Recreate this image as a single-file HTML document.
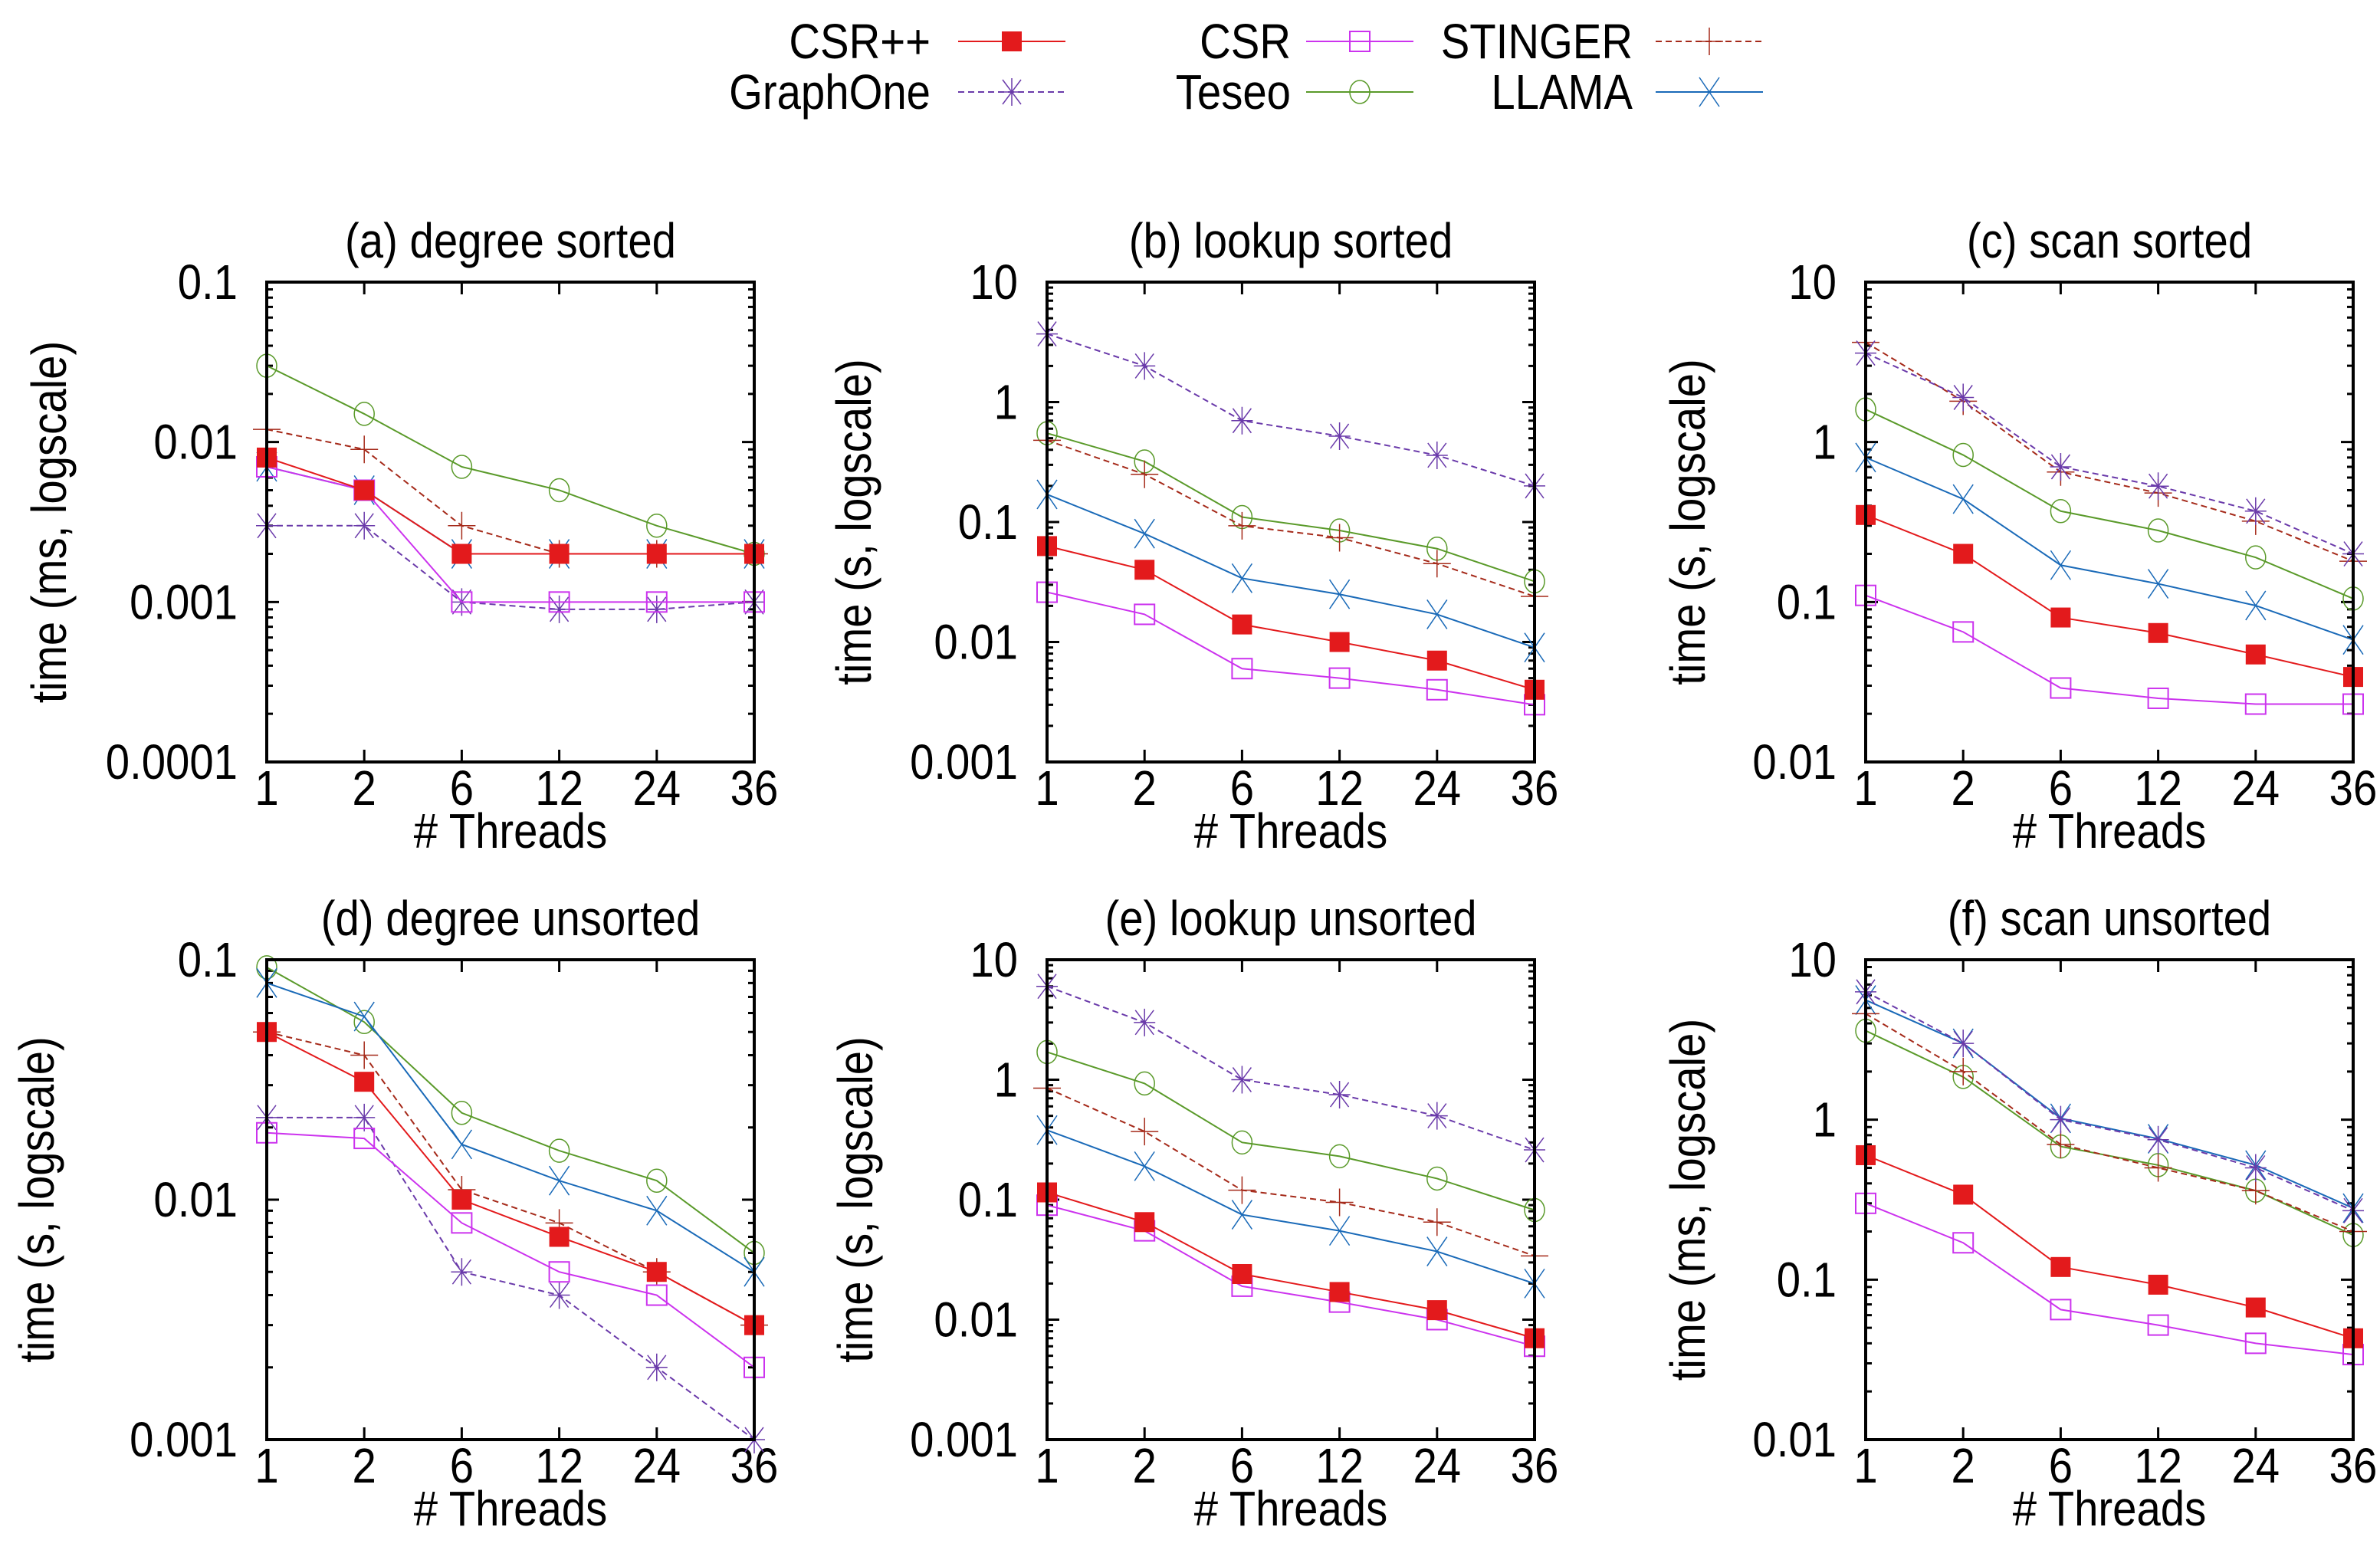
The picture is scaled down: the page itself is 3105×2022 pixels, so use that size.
<!DOCTYPE html>
<html><head><meta charset="utf-8">
<style>
html,body{margin:0;padding:0;background:#fff;}
svg{display:block;font-family:"Liberation Sans",sans-serif;}
</style></head>
<body>
<svg id="fig" width="3105" height="2022" viewBox="0 0 3105 2022" xmlns="http://www.w3.org/2000/svg"></svg>
<script>
const categories = ["1","2","6","12","24","36"];
const seriesNames = ["CSR++","CSR","STINGER","GraphOne","Teseo","LLAMA"];
const panelTitles = ["(a) degree sorted","(b) lookup sorted","(c) scan sorted","(d) degree unsorted","(e) lookup unsorted","(f) scan unsorted"];
const yTitles = ["time (ms, logscale)","time (s, logscale)","time (s, logscale)","time (s, logscale)","time (s, logscale)","time (ms, logscale)"];
const yMinExp = [-4,-3,-2,-3,-3,-2];
const yMaxExp = [-1,1,1,-1,1,1];
const yTickLabels = [["0.0001","0.001","0.01","0.1"],["0.001","0.01","0.1","1","10"],["0.01","0.1","1","10"],["0.001","0.01","0.1"],["0.001","0.01","0.1","1","10"],["0.01","0.1","1","10"]];
// values per panel, per series order: CSR++, CSR, STINGER, GraphOne, Teseo, LLAMA
const dataA_csrpp=[0.008,0.005,0.002,0.002,0.002,0.002];
const dataA_csr=[0.007,0.005,0.001,0.001,0.001,0.001];
const dataA_stinger=[0.012,0.009,0.003,0.002,0.002,0.002];
const dataA_graphone=[0.003,0.003,0.001,0.0009,0.0009,0.001];
const dataA_teseo=[0.03,0.015,0.007,0.005,0.003,0.002];
const dataA_llama=[0.007,0.005,0.002,0.002,0.002,0.002];
const dataB_csrpp=[0.063,0.04,0.014,0.01,0.007,0.004];
const dataB_csr=[0.026,0.017,0.006,0.005,0.004,0.003];
const dataB_stinger=[0.48,0.25,0.093,0.074,0.045,0.024];
const dataB_graphone=[3.7,2.0,0.7,0.52,0.36,0.2];
const dataB_teseo=[0.55,0.32,0.11,0.085,0.06,0.032];
const dataB_llama=[0.17,0.08,0.034,0.025,0.017,0.009];
const dataC_csrpp=[0.35,0.2,0.08,0.064,0.047,0.034];
const dataC_csr=[0.11,0.065,0.029,0.025,0.023,0.023];
const dataC_stinger=[4.2,1.8,0.65,0.48,0.32,0.18];
const dataC_graphone=[3.6,1.9,0.7,0.53,0.37,0.2];
const dataC_teseo=[1.6,0.83,0.37,0.28,0.19,0.105];
const dataC_llama=[0.8,0.44,0.17,0.13,0.095,0.058];
const dataD_csrpp=[0.05,0.031,0.01,0.007,0.005,0.003];
const dataD_csr=[0.019,0.018,0.008,0.005,0.004,0.002];
const dataD_stinger=[0.05,0.04,0.011,0.008,0.005,0.003];
const dataD_graphone=[0.022,0.022,0.005,0.004,0.002,0.001];
const dataD_teseo=[0.093,0.055,0.023,0.016,0.012,0.006];
const dataD_llama=[0.08,0.058,0.017,0.012,0.009,0.005];
const dataE_csrpp=[0.115,0.065,0.024,0.017,0.012,0.007];
const dataE_csr=[0.09,0.055,0.019,0.014,0.01,0.006];
const dataE_stinger=[0.85,0.37,0.12,0.095,0.065,0.034];
const dataE_graphone=[6,3,1.0,0.75,0.5,0.26];
const dataE_teseo=[1.7,0.93,0.3,0.23,0.15,0.082];
const dataE_llama=[0.38,0.19,0.075,0.055,0.037,0.02];
const dataF_csrpp=[0.6,0.34,0.12,0.093,0.067,0.043];
const dataF_csr=[0.3,0.17,0.065,0.052,0.04,0.034];
const dataF_stinger=[4.6,2.0,0.7,0.5,0.36,0.2];
const dataF_graphone=[6.3,3.0,1.0,0.75,0.5,0.27];
const dataF_teseo=[3.6,1.85,0.68,0.52,0.36,0.19];
const dataF_llama=[5.6,3.0,1.02,0.76,0.52,0.28];
const panelData=[
 [dataA_csrpp,dataA_csr,dataA_stinger,dataA_graphone,dataA_teseo,dataA_llama],
 [dataB_csrpp,dataB_csr,dataB_stinger,dataB_graphone,dataB_teseo,dataB_llama],
 [dataC_csrpp,dataC_csr,dataC_stinger,dataC_graphone,dataC_teseo,dataC_llama],
 [dataD_csrpp,dataD_csr,dataD_stinger,dataD_graphone,dataD_teseo,dataD_llama],
 [dataE_csrpp,dataE_csr,dataE_stinger,dataE_graphone,dataE_teseo,dataE_llama],
 [dataF_csrpp,dataF_csr,dataF_stinger,dataF_graphone,dataF_teseo,dataF_llama]];

const styles={
 "CSR++":{c:"#e31a1c",m:"fsq",d:null},
 "CSR":{c:"#cc33ee",m:"osq",d:null},
 "STINGER":{c:"#a52a1a",m:"plus",d:"8,5"},
 "GraphOne":{c:"#6a3aaa",m:"star",d:"8,5"},
 "Teseo":{c:"#5a9a2a",m:"circ",d:null},
 "LLAMA":{c:"#1a6ab8",m:"cross",d:null}};
const drawOrder=["Teseo","LLAMA","STINGER","GraphOne","CSR","CSR++"];

const NS="http://www.w3.org/2000/svg";
const svg=document.getElementById("fig");
const FS=64, SX=0.88;
function el(tag,attrs,parent){const e=document.createElementNS(NS,tag);for(const k in attrs)e.setAttribute(k,attrs[k]);(parent||svg).appendChild(e);return e;}
function txt(parent,x,y,anchor,s,rot){
  const tr=rot?`translate(${x} ${y}) rotate(-90) scale(${SX} 1)`:`translate(${x} ${y}) scale(${SX} 1)`;
  const t=el("text",{x:0,y:0,"font-size":FS,"text-anchor":anchor,transform:tr},parent);
  t.textContent=s;return t;
}

function marker(g,type,x,y,c){
  let m;
  if(type==="fsq"){m=el("rect",{x:x-13,y:y-13,width:26,height:26,fill:c},g);}
  else if(type==="osq"){m=el("rect",{x:x-13,y:y-13,width:26,height:26,fill:"none",stroke:c,"stroke-width":2},g);}
  else if(type==="circ"){m=el("ellipse",{cx:x,cy:y,rx:13,ry:15,fill:"none",stroke:c,"stroke-width":1.5},g);}
  else if(type==="plus"){m=el("path",{d:`M${x-18} ${y}H${x+18}M${x} ${y-18}V${y+18}`,stroke:c,"stroke-width":1.5,fill:"none"},g);}
  else if(type==="cross"){m=el("path",{d:`M${x-13} ${y-19}L${x+13} ${y+19}M${x+13} ${y-19}L${x-13} ${y+19}`,stroke:c,"stroke-width":1.5,fill:"none"},g);}
  else {m=el("path",{d:`M${x-12} ${y-16}L${x+12} ${y+16}M${x+12} ${y-16}L${x-12} ${y+16}M${x} ${y-18}V${y+18}M${x-14} ${y}H${x+14}`,stroke:c,"stroke-width":1.5,fill:"none"},g);}
  return m;
}

const colX=[[348,984],[1366,2002],[2434,3070]];
const rowY=[[368,994],[1252,1878]];
const yTitleX=[[66,1116,2204],[50,1118,2204]];

for(let p=0;p<6;p++){
  const col=p%3,row=Math.floor(p/3);
  const L=colX[col][0],R=colX[col][1],T=rowY[row][0],B=rowY[row][1];
  const g=el("g",{});
  
  
  const lo=yMinExp[p],hi=yMaxExp[p];
  const xs=i=>L+(R-L)*i/(categories.length-1);
  const ys=v=>B-(B-T)*(Math.log10(v)-lo)/(hi-lo);
  const t=txt(g,(L+R)/2,T-32,"middle",panelTitles[p]);
  
  for(let e=lo;e<=hi;e++){
    const y=ys(Math.pow(10,e));
    el("path",{d:`M${L} ${y}h16M${R} ${y}h-16`,stroke:"#000","stroke-width":3},g);
    const lb=txt(g,L-38,y+22,"end",yTickLabels[p][e-lo]);
    
    if(e<hi)for(let k=2;k<10;k++){const yy=ys(k*Math.pow(10,e));el("path",{d:`M${L} ${yy}h8M${R} ${yy}h-8`,stroke:"#000","stroke-width":3},g);}
  }
  categories.forEach((c,i)=>{
    const x=xs(i);
    el("path",{d:`M${x} ${B}v-16M${x} ${T}v16`,stroke:"#000","stroke-width":3},g);
    const lb=txt(g,x,B+56,"middle",c);
    
  });
  const xt=txt(g,(L+R)/2,B+112,"middle","# Threads");
  
  const tx=yTitleX[row][col]+20,ty=(T+B)/2;
  const yt=txt(g,tx,ty,"middle",yTitles[p],true);
  
  drawOrder.forEach(name=>{
    const s=styles[name];const vals=panelData[p][seriesNames.indexOf(name)];
    const sg=el("g",{},g);
    
    
    const pts=vals.map((v,i)=>xs(i)+","+ys(v)).join(" ");
    const a={points:pts,fill:"none",stroke:s.c,"stroke-width":2};if(s.d)a["stroke-dasharray"]=s.d;
    el("polyline",a,sg);
    vals.forEach((v,i)=>{const m=marker(sg,s.m,xs(i),ys(v),s.c);
      });
  });
  el("rect",{x:L,y:T,width:R-L,height:B-T,fill:"none",stroke:"#000","stroke-width":4},g);
}

const legendPos=[["CSR++",1214,54,1250],["CSR",1684,54,1704],["STINGER",2130,54,2160],["GraphOne",1214,120,1250],["Teseo",1684,120,1704],["LLAMA",2130,120,2160]];
legendPos.forEach(([name,tx,y,lx])=>{
  const s=styles[name];
  const g=el("g",{});
  
  
  txt(g,tx,y+22,"end",name);
  const a={x1:lx,y1:y,x2:lx+140,y2:y,stroke:s.c,"stroke-width":2};if(s.d)a["stroke-dasharray"]=s.d;
  el("line",a,g);
  marker(g,s.m,lx+70,y,s.c);
});
</script>
</body></html>
